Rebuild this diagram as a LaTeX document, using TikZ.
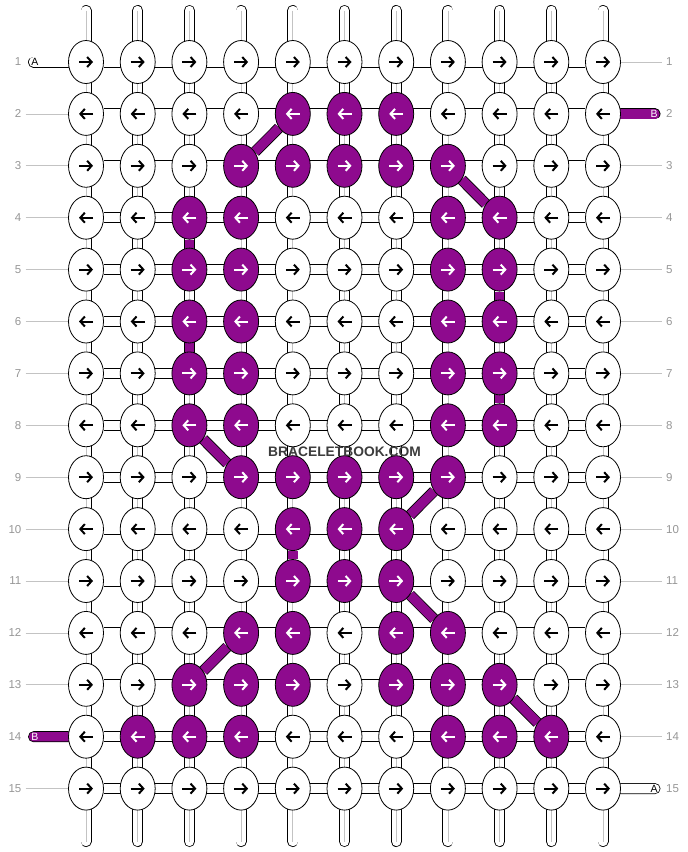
\documentclass[tikz,border=0pt]{standalone}
\usepackage{fontspec}
\setsansfont{Liberation Sans}
\usetikzlibrary{shapes.geometric,arrows.meta,backgrounds}

\definecolor{braidpurple}{RGB}{142,10,142}
\definecolor{labelgray}{RGB}{150,150,150}
\definecolor{guidegray}{RGB}{195,195,195}
\definecolor{markgray}{RGB}{60,60,60}

\tikzset{
  knot/.style={ellipse,draw=black,line width=0.8pt,minimum width=35pt,minimum height=43pt,inner sep=0pt},
  arr/.style={line width=2pt,-{Straight Barb[length=4.5pt,width=10pt]}},
  strand/.style={draw=black,line width=0.8pt,double distance=9.4pt},
  wstrand/.style={strand,double=white},
  pstrand/.style={strand,double=braidpurple},
  core/.style={draw=guidegray,line width=0.8pt},
  guide/.style={draw=guidegray,line width=0.7pt},
  rowno/.style={font=\sffamily\fontsize{11.5}{12}\selectfont,text=labelgray,inner sep=0pt},
  tailtext/.style={font=\sffamily\fontsize{10.5}{11}\selectfont,inner sep=0pt},
}

\begin{document}
\begin{tikzpicture}[x=1pt,y=-1pt]
  \useasboundingbox (0,0) rectangle (688,852);

  % knots, purple columns listed per row
  \foreach \r/\cols in {1/{0},2/{5,6,7},3/{4,5,6,7,8},4/{3,4,8,9},5/{3,4,8,9},
      6/{3,4,8,9},7/{3,4,8,9},8/{3,4,8,9},9/{4,5,6,7,8},10/{5,6,7},
      11/{5,6,7},12/{4,5,7,8},13/{3,4,5,7,8,9},14/{2,3,4,8,9,10},15/{0}} {
    \foreach \c in {1,...,11} {
      \gdef\kfill{white}\gdef\acol{black}
      \foreach \p in \cols {\ifnum\p=\c \gdef\kfill{braidpurple}\gdef\acol{white}\fi}
      \node[knot,fill=\kfill] (k-\r-\c) at ({86+(\c-1)*51.7},{62+(\r-1)*51.9}) {};
      \ifodd\r\relax
        \draw[arr,draw=\acol] ([xshift=-7pt]k-\r-\c.center) -- ([xshift=7pt]k-\r-\c.center);
      \else
        \draw[arr,draw=\acol] ([xshift=7pt]k-\r-\c.center) -- ([xshift=-7pt]k-\r-\c.center);
      \fi
    }
  }

  \begin{scope}[on background layer]
    % warp strands
    \foreach \c in {1,...,11} {
      \coordinate (top-\c) at ({86+(\c-1)*51.7},10.5);
      \coordinate (bot-\c) at ({86+(\c-1)*51.7},841.5);
      \draw[wstrand,line cap=round] (top-\c) -- (bot-\c);
      \draw[core] (top-\c) -- (bot-\c);
    }
    \foreach \a/\b/\c in {4/5/3,6/7/3,5/6/9,7/8/9,10/11/5}
      \draw[pstrand] (k-\a-\c) -- (k-\b-\c);
    % row strands
    \foreach \r in {1,...,15}
      \draw[wstrand] (k-\r-1) -- (k-\r-11);
    % purple crossings
    \foreach \a/\b in {2-5/3-4,3-8/4-9,8-3/9-4,9-8/10-7,11-7/12-8,12-4/13-3,13-9/14-10}
      \draw[pstrand] (k-\a) -- (k-\b);
    % loose ends
    \coordinate (endA-l) at (33.5,62);
    \coordinate (endB-r) at (655,113.9);
    \coordinate (endB-l) at (33.5,736.7);
    \coordinate (endA-r) at (655,788.6);
    \draw[wstrand,line cap=round] (endA-l) -- (k-1-1);
    \draw[pstrand,line cap=round] (endB-r) -- (k-2-11);
    \draw[pstrand,line cap=round] (endB-l) -- (k-14-1);
    \draw[wstrand,line cap=round] (endA-r) -- (k-15-11);
  \end{scope}
  \node[tailtext] (nameA-l) at (35,62) {A};
  \node[tailtext,text=white] (nameB-r) at (654,113.9) {B};
  \node[tailtext,text=white] (nameB-l) at (35,736.7) {B};
  \node[tailtext] (nameA-r) at (654,788.6) {A};

  % row numbers
  \foreach \r in {1,...,15} {
    \node[rowno,anchor=east] (lrow-\r) at (21.5,{62+(\r-1)*51.9}) {\r};
    \node[rowno,anchor=west] (rrow-\r) at (666,{62+(\r-1)*51.9}) {\r};
  }
  \foreach \r in {2,...,13,15}
    \draw[guide] ([xshift=4pt]lrow-\r.east) -- (k-\r-1.west);
  \foreach \r in {1,3,4,...,14}
    \draw[guide] (k-\r-11.east) -- ([xshift=-4pt]rrow-\r.west);

  \node[font=\sffamily\bfseries\fontsize{13.8}{14}\selectfont,text=markgray] (mark) at (344.5,452) {BRACELETBOOK.COM};
\end{tikzpicture}
\end{document}
